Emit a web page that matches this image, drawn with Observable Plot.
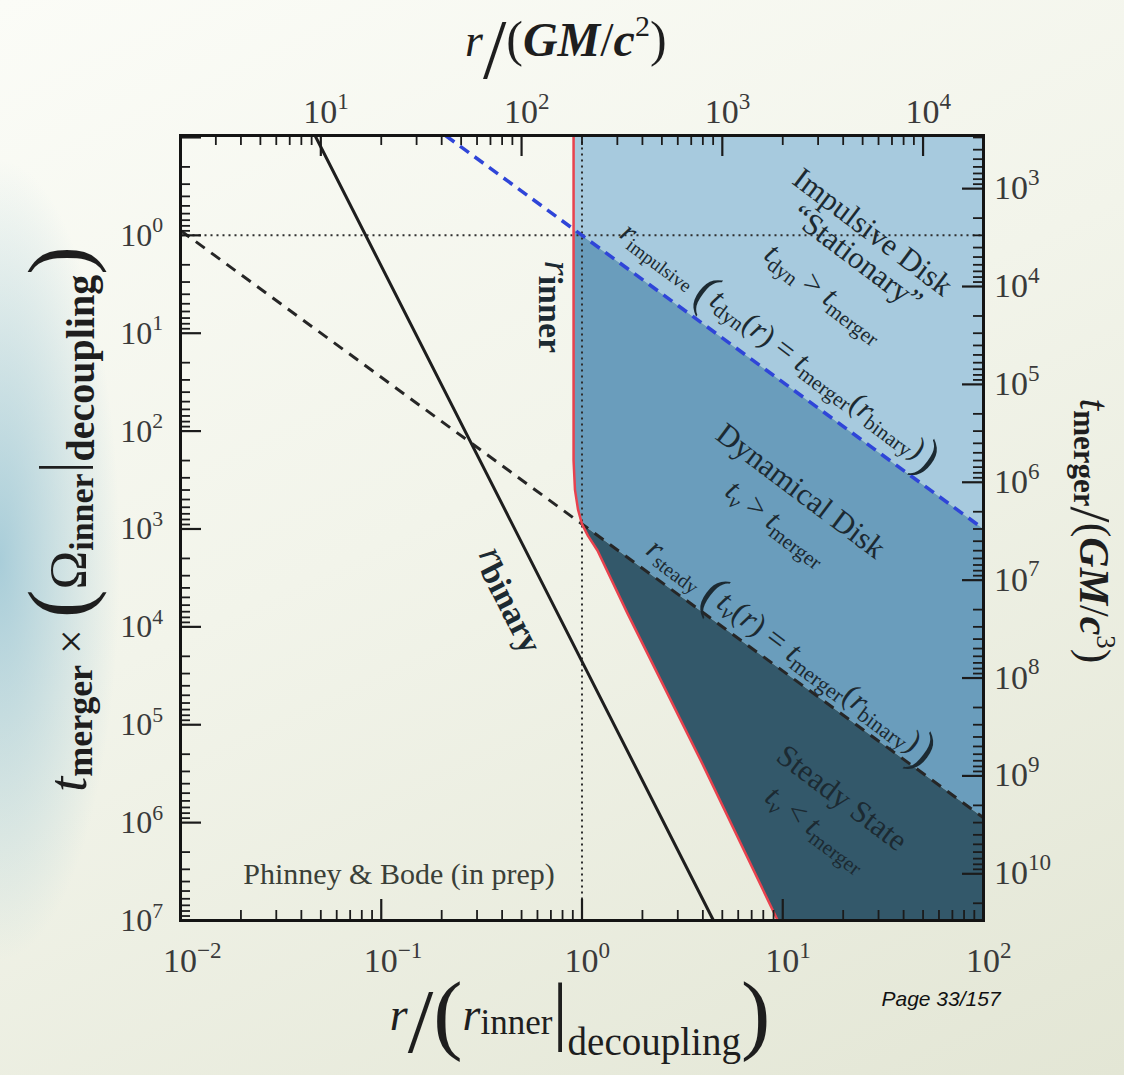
<!DOCTYPE html>
<html><head><meta charset="utf-8">
<script src="https://cdn.jsdelivr.net/npm/d3@7"></script>
<script src="https://cdn.jsdelivr.net/npm/@observablehq/plot@0.6"></script>
<style>
html,body{margin:0;padding:0;}
body{width:1124px;height:1075px;overflow:hidden;
background:
 radial-gradient(ellipse 120px 400px at 0px 560px, rgba(150,195,212,0.8), rgba(150,195,212,0) 100%),
 linear-gradient(155deg, #fbfcf7 0%, #f2f4ea 45%, #e3e6d5 100%);}
#chart svg{display:block}
</style></head><body><div id="chart"></div>
<script>
// ---- values (log10 of x, log10 of y) ----
const xDomain = [1e-2, 1e2];
const yDomain = [10 ** -1.02, 1e7];
const rPerUnit = 200;   // top axis  r/(GM/c^2) at r/r_inner = 1
const tPerUnit = 3000;  // right axis t/(GM/c^3) at left value 1

const redLine      = [[-0.042,-1.02],[-0.042,2.3],[-0.035,2.6],[-0.02,2.8],[0,2.95],[0.03,3.07],[0.077,3.22],[0.226,3.86],[0.6,5.4],[0.975,7.0]];
const blueDashed   = [[-0.68,-1.02],[2,3.0]];
const blackDashed  = [[-2,-0.05],[2,5.95]];
const rBinary      = [[-1.33,-1.02],[0.655,7.0]];
const lightRegion  = [[-0.042,-1.02],[2,-1.02],[2,3.0],[-0.042,-0.063]];
const mediumRegion = [[-0.042,-0.063],[-0.042,2.3],[-0.035,2.6],[-0.02,2.8],[0,2.95],[2,5.95],[2,3.0]];
const darkRegion   = [[0,2.95],[0.03,3.07],[0.077,3.22],[0.226,3.86],[0.6,5.4],[0.975,7.0],[2,7.0],[2,5.95]];
const hDotted      = [[-2,0],[2,0]];
const vDotted      = [[0,-1.02],[0,7]];

const bottomLabelExps = [-2,-1,0,1,2];
const leftLabelExps   = [0,1,2,3,4,5,6,7];
const topLabelExps    = [1,2,3,4];
const rightLabelExps  = [3,4,5,6,7,8,9,10];

// annotation anchors (log10 x, log10 y)
const regionLabels = [
  {lx:1.452, ly:-0.031, segs:[{t:"Impulsive Disk"}]},
  {lx:1.372, ly:0.235,  segs:[{t:"\u201CStationary\u201D"}]},
  {lx:1.213, ly:0.582,  segs:[{t:"t",it:1},{t:"dyn",s:0.68,dy:6},{t:" > "},{t:"t",it:1},{t:"merger",s:0.68,dy:6}]},
  {lx:1.093, ly:2.615,  segs:[{t:"Dynamical Disk"}]},
  {lx:0.974, ly:2.932,  segs:[{t:"t",it:1},{t:"\u03BD",it:1,s:0.68,dy:6},{t:" > "},{t:"t",it:1},{t:"merger",s:0.68,dy:6}]},
  {lx:1.298, ly:5.751,  segs:[{t:"Steady State"}]},
  {lx:1.173, ly:6.057,  segs:[{t:"t",it:1},{t:"\u03BD",it:1,s:0.68,dy:6},{t:" < "},{t:"t",it:1},{t:"merger",s:0.68,dy:6}]}
];
const lineLabels = [
  {lx:0.989, ly:1.124, size:31, segs:[{t:"r",it:1},{t:"impulsive",s:0.62,dy:5},{t:" "},{t:"(",s:1.6,dy:7},{t:"t",it:1},{t:"dyn",s:0.68,dy:5},{t:"("},{t:"r",it:1},{t:") = "},{t:"t",it:1},{t:"merger",s:0.68,dy:5},{t:"("},{t:"r",it:1},{t:"binary",s:0.68,dy:5},{t:")"},{t:")",s:1.6,dy:7}]},
  {lx:1.045, ly:4.239, size:32, segs:[{t:"r",it:1},{t:"steady",s:0.62,dy:5},{t:" "},{t:"(",s:1.6,dy:7},{t:"t",it:1},{t:"\u03BD",it:1,s:0.68,dy:5},{t:"("},{t:"r",it:1},{t:") = "},{t:"t",it:1},{t:"merger",s:0.68,dy:5},{t:"("},{t:"r",it:1},{t:"binary",s:0.68,dy:5},{t:")"},{t:")",s:1.6,dy:7}]}
];

const P = a => a.map(([lx, ly]) => ({x: 10 ** lx, y: 10 ** ly}));

const W = 1124, H = 1075, mL = 180, mR = 1124 - 983, mT = 135, mB = 1075 - 920;
const iW = W - mL - mR, iH = H - mT - mB;

const isMajor = v => Math.abs(Math.log10(v) - Math.round(Math.log10(v))) < 1e-9;
const xt = d3.scaleLog().domain(xDomain).ticks(20);
const yt = d3.scaleLog().domain(yDomain).ticks(20).filter(v => v >= yDomain[0] && v <= yDomain[1]);
const tt = d3.scaleLog().domain([xDomain[0]*rPerUnit, xDomain[1]*rPerUnit]).ticks(20);
const rt = d3.scaleLog().domain([yDomain[0]*tPerUnit, yDomain[1]*tPerUnit]).ticks(20);

const tickCol = "#1b1b1b";
const plot = Plot.plot({
  width: W, height: H,
  marginLeft: mL, marginRight: mR, marginTop: mT, marginBottom: mB,
  style: {background: "transparent", overflow: "visible"},
  x: {type: "log", domain: xDomain, axis: null},
  y: {type: "log", domain: yDomain, reverse: true, axis: null},
  marks: [
    Plot.line(P(lightRegion),  {x: "x", y: "y", fill: "#a7cade", stroke: "none"}),
    Plot.line(P(mediumRegion), {x: "x", y: "y", fill: "#6a9dbc", stroke: "none"}),
    Plot.line(P(darkRegion),   {x: "x", y: "y", fill: "#33586a", stroke: "none"}),
    Plot.line(P(hDotted), {x: "x", y: "y", stroke: "#2e2e2e", strokeWidth: 2, strokeDasharray: "2,4", strokeLinecap: "butt"}),
    Plot.line(P(vDotted), {x: "x", y: "y", stroke: "#2e2e2e", strokeWidth: 2, strokeDasharray: "2,4", strokeLinecap: "butt"}),
    Plot.line(P(rBinary), {x: "x", y: "y", stroke: "#1e1e1e", strokeWidth: 3}),
    Plot.line(P(blackDashed), {x: "x", y: "y", stroke: "#262626", strokeWidth: 3, strokeDasharray: "11,8", strokeLinecap: "butt"}),
    Plot.line(P(blueDashed), {x: "x", y: "y", stroke: "#2f45d8", strokeWidth: 3.5, strokeDasharray: "11,7", strokeLinecap: "butt"}),
    Plot.line(P(redLine), {x: "x", y: "y", stroke: "#e8424e", strokeWidth: 2.5}),
    // bottom
    Plot.tickX(xt.filter(v => !isMajor(v)), {x: d => d, insetTop: iH - 10, stroke: tickCol, strokeWidth: 1.8}),
    Plot.tickX(xt.filter(isMajor), {x: d => d, insetTop: iH - 21, stroke: tickCol, strokeWidth: 2.2}),
    // top
    Plot.tickX(tt.filter(v => !isMajor(v)), {x: d => d / rPerUnit, insetBottom: iH - 10, stroke: tickCol, strokeWidth: 1.8}),
    Plot.tickX(tt.filter(isMajor), {x: d => d / rPerUnit, insetBottom: iH - 21, stroke: tickCol, strokeWidth: 2.2}),
    // left
    Plot.tickY(yt.filter(v => !isMajor(v)), {y: d => d, insetRight: iW - 10, stroke: tickCol, strokeWidth: 1.8}),
    Plot.tickY(yt.filter(isMajor), {y: d => d, insetRight: iW - 21, stroke: tickCol, strokeWidth: 2.2}),
    // right
    Plot.tickY(rt.filter(v => !isMajor(v)), {y: d => d / tPerUnit, insetLeft: iW - 10, stroke: tickCol, strokeWidth: 1.8}),
    Plot.tickY(rt.filter(isMajor), {y: d => d / tPerUnit, insetLeft: iW - 21, stroke: tickCol, strokeWidth: 2.2}),
    Plot.frame({stroke: "#141414", strokeWidth: 3})
  ]
});
document.getElementById("chart").appendChild(plot);

const Xs = plot.scale("x"), Ys = plot.scale("y");
const sx = typeof Xs.apply === "function" ? v => Xs.apply(v) : d3.scaleLog().domain(xDomain).range([mL, W - mR]);
const sy = typeof Ys.apply === "function" ? v => Ys.apply(v) : d3.scaleLog().domain(yDomain).range([mT, H - mB]);

const svg = d3.select(plot);
const SERIF = "'Liberation Serif', 'Times New Roman', serif";

function rich(sel, opt, segs) {
  const size = opt.size || 30;
  const t = sel.append("text")
    .attr("transform", `translate(${opt.x},${opt.y}) rotate(${opt.rotate || 0})`)
    .attr("text-anchor", opt.anchor || "start")
    .attr("fill", opt.fill || "#222")
    .attr("font-family", opt.family || SERIF)
    .style("white-space", "pre");
  if (opt.weight) t.attr("font-weight", opt.weight);
  let cur = 0;
  for (const s of segs) {
    const sh = s.dy || 0;
    const fs = s.size || (s.s ? s.s * size : size);
    const ts = t.append("tspan").text(s.t).attr("font-size", fs);
    if (sh !== cur) ts.attr("dy", sh - cur);
    cur = sh;
    if (s.it) ts.attr("font-style", "italic");
    if (s.b) ts.attr("font-weight", "bold");
    if (s.dx) ts.attr("dx", s.dx);
  }
  return t;
}
function centered(sel, cx, cy, angle, size, segs, fill) {
  const a = angle * Math.PI / 180;
  const off = size * 0.33;
  return rich(sel, {x: cx - Math.sin(a) * off, y: cy + Math.cos(a) * off, rotate: angle, anchor: "middle", size, fill}, segs);
}
const expStr = e => e < 0 ? "\u2212" + (-e) : String(e);
function pow10(sel, x, y, e, anchor, size) {
  return rich(sel, {x, y, anchor, size, fill: "#3a3a3a"}, [{t: "10"}, {t: expStr(e), s: 0.68, dy: -size * 0.42}]);
}

const g = svg.append("g");
bottomLabelExps.forEach(e => pow10(g, sx(10 ** e) - 17, 972, e, "start", 34));
topLabelExps.forEach(e => pow10(g, sx(10 ** e / rPerUnit) - 17, 123, e, "start", 34));
leftLabelExps.forEach(e => pow10(g, 163, sy(10 ** e) + 11, e, "end", 32));
rightLabelExps.forEach(e => pow10(g, 994, sy(10 ** e / tPerUnit) + 11, e, "start", 34));

// axis titles
rich(g, {x: 465, y: 56, fill: "#1e1e1e"}, [
  {t: "r", it: 1, size: 46}, {t: "/", size: 84, dy: 22}, {t: "(", size: 50, dy: 0},
  {t: "GM", it: 1, b: 1, size: 48}, {t: "/", size: 48}, {t: "c", it: 1, b: 1, size: 48},
  {t: "2", size: 30, dy: -20}, {t: ")", size: 50, dy: 0}
]);
rich(g, {x: 580, y: 1030, anchor: "middle", fill: "#1e1e1e"}, [
  {t: "r", it: 1, size: 46}, {t: "/", size: 92, dy: 22}, {t: "(", size: 88, dy: 13},
  {t: "r", it: 1, size: 46, dy: 0}, {t: "inner", size: 35, dy: 4}, {t: "|", size: 76, dy: 6},
  {t: "decoupling", size: 39, dy: 25}, {t: ")", size: 88, dy: 13}
]);
rich(g, {x: 86, y: 519, rotate: -90, anchor: "middle", fill: "#1e1e1e"}, [
  {t: "t", it: 1, size: 54}, {t: "merger", b: 1, size: 36, dy: 6}, {t: " \u00D7 ", size: 44, dy: 0},
  {t: "(", size: 86, dy: 2}, {t: "\u03A9", size: 52, dy: 0}, {t: "inner", b: 1, size: 34, dy: 7},
  {t: "|", size: 59, dy: -6}, {t: "decoupling", b: 1, size: 40, dy: 8}, {t: ")", size: 86, dy: 2}
]);
rich(g, {x: 1080, y: 531, rotate: 90, anchor: "middle", fill: "#1e1e1e"}, [
  {t: "t", it: 1, size: 42}, {t: "merger", b: 1, size: 31, dy: 6}, {t: "/", size: 58, dy: 9},
  {t: "(", size: 44, dy: 0}, {t: "GM", it: 1, b: 1, size: 42}, {t: "/", size: 42},
  {t: "c", it: 1, b: 1, size: 42}, {t: "3", size: 27, dy: -17}, {t: ")", size: 44, dy: 0}
]);

// annotations
const annCol = "#1c2a32";
regionLabels.forEach(d => centered(g, sx(10 ** d.lx), sy(10 ** d.ly), 37, 31, d.segs, annCol));
lineLabels.forEach(d => centered(g, sx(10 ** d.lx), sy(10 ** d.ly), 36.8, d.size, d.segs, annCol));
rich(g, {x: sx(10 ** -0.182), y: sy(10 ** 0.266), rotate: 90, size: 36, fill: annCol}, [
  {t: "r", it: 1, size: 38}, {t: "inner", b: 1, size: 34, dy: 6}
]);
rich(g, {x: sx(10 ** -0.516), y: sy(10 ** 3.26), rotate: 63, size: 36, fill: annCol}, [
  {t: "r", it: 1, size: 38}, {t: "binary", b: 1, size: 34, dy: 6}
]);
rich(g, {x: sx(10 ** -0.909), y: sy(10 ** 6.63), anchor: "middle", size: 30, fill: "#3a3f38"}, [
  {t: "Phinney & Bode (in prep)"}
]);
rich(g, {x: 941, y: 1006, anchor: "middle", size: 21, fill: "#111", family: "'Liberation Sans', Arial, sans-serif"}, [
  {t: "Page 33/157", it: 1}
]);
</script></body></html>
